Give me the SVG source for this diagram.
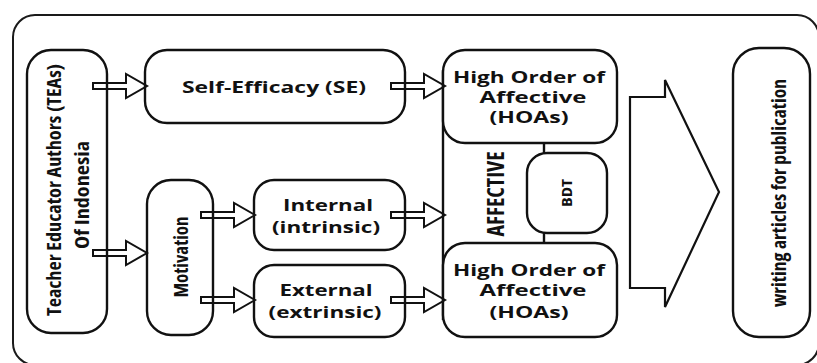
<svg xmlns="http://www.w3.org/2000/svg" xmlns:xlink="http://www.w3.org/1999/xlink" width="817" height="363" viewBox="0 0 817 363">
  <style>
    .frame { fill: none; stroke: #1a1a1a; stroke-width: 2; }
    .box { fill: #ffffff; stroke: #111111; stroke-width: 2.4; }
    .line { fill: none; stroke: #111111; stroke-width: 2.4; }
    .arrow { fill: none; stroke: #111111; stroke-width: 2; stroke-linejoin: miter; }
    .big { fill: #ffffff; stroke: #111111; stroke-width: 2.2; stroke-linejoin: miter; }
    .lbl { font-family: "Open Sans", "DejaVu Sans", sans-serif; font-weight: 700; font-size: 16px; fill: #111111; text-anchor: middle; dominant-baseline: central; }
    .vlbl { font-family: "Open Sans", "DejaVu Sans", sans-serif; font-weight: 700; font-stretch: 75%; font-size: 19px; fill: #111111; text-anchor: middle; dominant-baseline: central; }
  </style>
  <defs>
    <!-- hollow block arrow, tip at origin, pointing right -->
    <path id="blockArrow" d="M -54 -3 H -21 V -12 L 0 0 L -21 12 V 3 H -54 Z"/>
  </defs>

  <rect class="frame" x="13" y="15" width="806" height="350" rx="22"/>

  <g id="tea">
    <rect class="box" x="27" y="50" width="80" height="283" rx="24"/>
    <text class="vlbl" transform="translate(54,190) rotate(-90)" textLength="252" lengthAdjust="spacingAndGlyphs">Teacher Educator Authors (TEAs)</text>
    <text class="vlbl" transform="translate(82,195) rotate(-90)" textLength="108" lengthAdjust="spacingAndGlyphs">Of Indonesia</text>
  </g>

  <g id="self-efficacy">
    <rect class="box" x="145" y="50" width="260" height="73" rx="22"/>
    <text class="lbl" x="274" y="87" textLength="184" lengthAdjust="spacingAndGlyphs">Self-Efficacy (SE)</text>
  </g>

  <g id="motivation">
    <rect class="box" x="147" y="180" width="66" height="155" rx="24"/>
    <text class="vlbl" transform="translate(181,257) rotate(-90)" textLength="81" lengthAdjust="spacingAndGlyphs">Motivation</text>
  </g>

  <g id="internal">
    <rect class="box" x="254" y="180" width="151" height="70" rx="20"/>
    <text class="lbl" x="328" y="205" textLength="90" lengthAdjust="spacingAndGlyphs">Internal</text>
    <text class="lbl" x="326" y="227" textLength="108" lengthAdjust="spacingAndGlyphs">(intrinsic)</text>
  </g>

  <g id="external">
    <rect class="box" x="254" y="265" width="151" height="72" rx="20"/>
    <text class="lbl" x="326" y="290" textLength="93" lengthAdjust="spacingAndGlyphs">External</text>
    <text class="lbl" x="325" y="312" textLength="113" lengthAdjust="spacingAndGlyphs">(extrinsic)</text>
  </g>

  <g id="affective">
    <line class="line" x1="443" y1="70" x2="443" y2="320"/>
    <text class="vlbl" transform="translate(495,194) rotate(-90)" style="font-size:23px" textLength="85" lengthAdjust="spacingAndGlyphs">AFFECTIVE</text>
  </g>

  <g id="hoa-top">
    <rect class="box" x="443" y="50" width="174" height="93" rx="22"/>
    <text class="lbl" x="529" y="77" textLength="152" lengthAdjust="spacingAndGlyphs">High Order of</text>
    <text class="lbl" x="533" y="97" textLength="107" lengthAdjust="spacingAndGlyphs">Affective</text>
    <text class="lbl" x="529" y="117" textLength="79" lengthAdjust="spacingAndGlyphs">(HOAs)</text>
  </g>

  <g id="hoa-bottom">
    <rect class="box" x="443" y="243" width="174" height="94" rx="22"/>
    <text class="lbl" x="529" y="270" textLength="152" lengthAdjust="spacingAndGlyphs">High Order of</text>
    <text class="lbl" x="533" y="290" textLength="107" lengthAdjust="spacingAndGlyphs">Affective</text>
    <text class="lbl" x="529" y="312" textLength="79" lengthAdjust="spacingAndGlyphs">(HOAs)</text>
  </g>

  <g id="bdt">
    <rect class="box" x="527" y="153" width="80" height="80" rx="20"/>
    <text class="vlbl" transform="translate(566,193) rotate(-90)" style="font-size:15px" textLength="28" lengthAdjust="spacingAndGlyphs">BDT</text>
  </g>

  <g id="publication">
    <rect class="box" x="733" y="48" width="77" height="289" rx="26"/>
    <text class="vlbl" transform="translate(779,193) rotate(-90)" textLength="228" lengthAdjust="spacingAndGlyphs">writing articles for publication</text>
  </g>

  <g id="connectors">
    <use href="#blockArrow" class="arrow" x="147" y="86"/>
    <use href="#blockArrow" class="arrow" x="147" y="253"/>
    <use href="#blockArrow" class="arrow" x="255" y="215"/>
    <use href="#blockArrow" class="arrow" x="255" y="300"/>
    <use href="#blockArrow" class="arrow" x="445" y="86"/>
    <use href="#blockArrow" class="arrow" x="445" y="215"/>
    <use href="#blockArrow" class="arrow" x="445" y="300"/>
    <line class="line" x1="544" y1="143" x2="544" y2="153"/>
    <line class="line" x1="544" y1="233" x2="544" y2="243"/>
    <polygon class="big" points="630,97 665,97 665,80 719,192 665,307 665,288 630,288"/>
  </g>
</svg>
